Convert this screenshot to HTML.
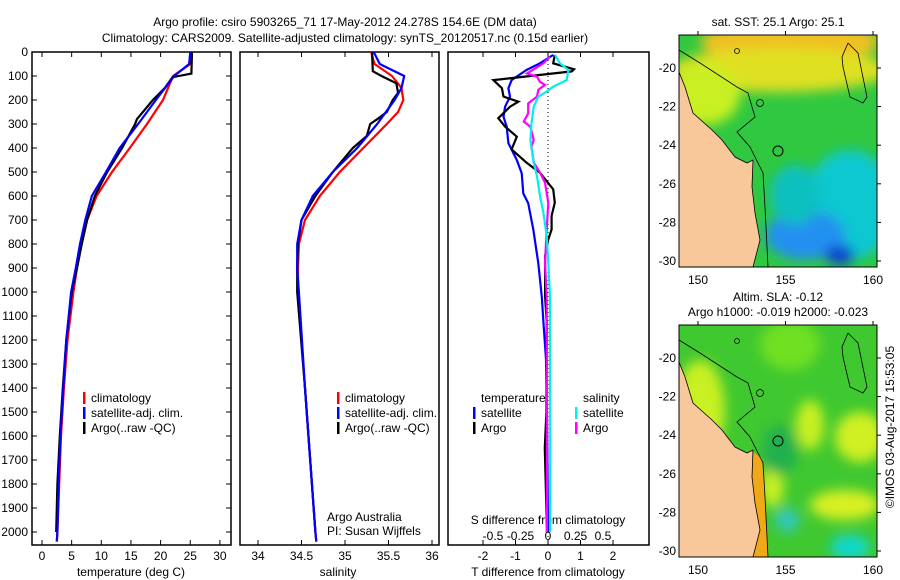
<!DOCTYPE html>
<html><head><meta charset="utf-8"><style>
body{margin:0;background:#fff;}
svg{display:block;font-family:"Liberation Sans",sans-serif;}
text{font-size:12px;fill:#000;}
</style></head><body>
<svg id="fig" width="900" height="580" viewBox="0 0 900 580">
<defs>
<filter id="blur" x="-20%" y="-20%" width="140%" height="140%"><feGaussianBlur stdDeviation="6"/></filter>
<clipPath id="m1"><rect x="679" y="35" width="198" height="232"/></clipPath>
<clipPath id="m2"><rect x="679" y="325" width="198" height="232"/></clipPath>
</defs>
<text x="345" y="26" text-anchor="middle">Argo profile: csiro 5903265_71 17-May-2012 24.278S 154.6E (DM data)</text>
<text x="345" y="42" text-anchor="middle">Climatology: CARS2009. Satellite-adjusted climatology: synTS_20120517.nc (0.15d earlier)</text>
<g id="charts"></g>
<g id="maps"></g>
<text transform="translate(894,427) rotate(-90)" text-anchor="middle">©IMOS 03-Aug-2017 15:53:05</text>
</svg>
<script>
// ---- data ----
const tempDepths=[0,50,100,200,300,400,500,600,700,800,900,1000,1200,1400,1600,1800,2000,2040];
const tempClim=[25.0,25.0,22.1,20.4,17.7,14.8,11.8,9.2,7.6,6.7,5.9,5.3,4.3,3.7,3.2,2.9,2.6,2.5];
const tempSat=[25.0,24.8,22.3,19.2,16.2,13.1,10.8,8.4,7.3,6.4,5.7,4.9,4.1,3.6,3.1,2.8,2.6,2.5];
const argoTempDepths=[0,90,105,150,200,280,300,400,500,600,700,800,900,1000,1200,1400,1600,1800,2000];
const argoTemp=[25.3,25.2,22.0,20.7,18.7,16.0,15.7,13.5,11.0,8.9,7.6,6.7,5.9,5.0,4.1,3.5,3.0,2.6,2.4];
const salDepths=[0,50,100,150,200,250,300,400,500,600,700,800,900,1000,1400,2000,2040];
const salClim=[35.30,35.34,35.54,35.65,35.67,35.61,35.48,35.21,34.94,34.71,34.54,34.47,34.46,34.46,34.54,34.66,34.67];
const salSat=[35.33,35.40,35.68,35.65,35.57,35.47,35.37,35.14,34.86,34.63,34.50,34.45,34.45,34.47,34.54,34.66,34.67];
const argoSalDepths=[0,80,100,130,170,200,250,280,300,350,400,500,600,700,800,900,1000,1400,2000];
const argoSal=[35.31,35.32,35.42,35.59,35.61,35.55,35.48,35.37,35.29,35.25,35.09,34.86,34.66,34.50,34.46,34.45,34.45,34.54,34.66];
const dTSatDepths=[12,47,75,117,151,186,228,270,311,380,450,505,589,630,742,880,1020,1130,1280,1500,2000];
const dTSat=[0.16,-0.25,-0.66,-1.12,-1.22,-1.17,-1.32,-1.37,-1.27,-1.22,-0.96,-0.81,-0.76,-0.61,-0.45,-0.30,-0.19,-0.14,-0.06,-0.03,0.0];
const dTArgoDepths=[12,47,72,81,117,151,186,207,228,276,311,353,406,461,503,572,628,683,739,781,850,1017,1128,1500,1650,2000];
const dTArgo=[0.21,0.16,0.80,0.73,-1.68,-1.42,-1.37,-0.91,-1.17,-1.53,-1.32,-0.96,-1.12,-0.66,-0.25,0.16,0.21,0.11,0.11,0.01,-0.09,-0.09,-0.04,-0.05,-0.10,-0.03];
const dSArgoDepths=[19,47,89,103,124,137,158,186,214,256,290,311,367,394,461,503,544,628,739,878,1017,1128,1600,2000];
const dSArgo=[0.018,-0.042,-0.19,-0.10,-0.073,-0.027,-0.088,-0.10,-0.18,-0.18,-0.22,-0.16,-0.13,-0.15,-0.13,-0.073,-0.027,0.003,-0.012,-0.027,-0.012,-0.012,-0.01,-0.01];
const dSSatDepths=[12,47,75,117,144,165,186,228,297,367,461,517,600,669,767,878,1017,1128,1600,2000];
const dSSat=[0.064,0.109,0.185,0.17,0.048,-0.012,-0.088,-0.13,-0.15,-0.16,-0.13,-0.10,-0.073,-0.042,-0.012,0.003,0.018,0.018,0.02,0.02];
const depthTicks=[0,100,200,300,400,500,600,700,800,900,1000,1100,1200,1300,1400,1500,1600,1700,1800,1900,2000];
const tempTicks=[0,5,10,15,20,25,30];
const salTicks=[34,34.5,35,35.5,36];
const dTTicks=[-2,-1,0,1,2];
const dSTicks=[-0.5,-0.25,0,0.25,0.5];
const dSTickLabels=["-0.5","-0.25","0","0.25","0.5"];

const NS="http://www.w3.org/2000/svg";
const g=document.getElementById('charts');
function mk(tag,attrs,parent){const e=document.createElementNS(NS,tag);for(const k in attrs)e.setAttribute(k,attrs[k]);(parent||g).appendChild(e);return e;}
const yD=d=>52+d*0.24;
const xT=t=>42+t*5.93;
const xS=s=>258+(s-34)*87;
const xDT=t=>548+t*32.5;
const xDS=s=>548+s*110;
const TOP=52,BOT=545;
const panels=[[32,231],[240,439],[448,649]];
panels.forEach((p,i)=>{
  const r=mk('rect',{x:p[0],y:TOP,width:p[1]-p[0],height:BOT-TOP,fill:'none',stroke:'#000','stroke-width':1.5});
  
  
});
depthTicks.forEach(d=>{
  const t=mk('text',{x:28,y:yD(d)+4,'text-anchor':'end'});t.textContent=d;
  
  
  mk('line',{x1:32,x2:37,y1:yD(d),y2:yD(d),stroke:'#000'});
  mk('line',{x1:226,x2:231,y1:yD(d),y2:yD(d),stroke:'#000'});
});
function xTicks(ticks,fx,labels,ly,top){
  ticks.forEach((v,i)=>{
    const x=fx(v);
    mk('line',{x1:x,x2:x,y1:BOT,y2:BOT-5,stroke:'#000'});
    if(top)mk('line',{x1:x,x2:x,y1:TOP,y2:TOP+5,stroke:'#000'});
    const t=mk('text',{x:x,y:ly,'text-anchor':'middle'});t.textContent=labels?labels[i]:v;
    
    
  });
}
xTicks(tempTicks,xT,null,560,true);
xTicks(salTicks,xS,null,560,true);
xTicks(dTTicks,xDT,null,560,true);
dSTicks.forEach((v,i)=>{const t=mk('text',{x:xDS(v),y:540,'text-anchor':'middle'});t.textContent=dSTickLabels[i];
  
  });
function label(txt,x,y,name,anchor){const t=mk('text',{x:x,y:y,'text-anchor':anchor||'middle'});t.textContent=txt;
  
  return t;}
label('temperature (deg C)',131,576,'x-axis-title-temperature');
label('salinity',338,576,'x-axis-title-salinity');
label('T difference from climatology',548,576,'x-axis-title-t-diff');
label('S difference from climatology',548,524,'x-axis-title-s-diff');
label('Argo Australia',327,521,'credit-argo-australia','start');
label('PI: Susan Wijffels',327,535,'credit-pi','start');
const z=mk('line',{x1:548,x2:548,y1:TOP,y2:BOT,stroke:'#000','stroke-dasharray':'1,3'});


function series(depths,vals,fx,color,name){
  const pts=depths.map((d,i)=>fx(vals[i]).toFixed(1)+','+yD(d).toFixed(1)).join(' ');
  const pl=mk('polyline',{points:pts,fill:'none',stroke:color,'stroke-width':2.2});
  
  
}
series(tempDepths,tempClim,xT,'#f00','temp-climatology-line');
series(argoTempDepths,argoTemp,xT,'#000','temp-argo-line');
series(tempDepths,tempSat,xT,'#00f','temp-satellite-line');
series(salDepths,salClim,xS,'#f00','sal-climatology-line');
series(argoSalDepths,argoSal,xS,'#000','sal-argo-line');
series(salDepths,salSat,xS,'#00f','sal-satellite-line');
series(dTSatDepths,dTSat,xDT,'#00f','tdiff-satellite-line');
series(dTArgoDepths,dTArgo,xDT,'#000','tdiff-argo-line');
series(dSArgoDepths,dSArgo,xDS,'#f0f','sdiff-argo-line');
series(dSSatDepths,dSSat,xDS,'#0ee','sdiff-satellite-line');
function leg(x,y,color,txt,name){
  mk('rect',{x:x,y:y-10,width:2.5,height:12,fill:color});
  const t=mk('text',{x:x+8,y:y});t.textContent=txt;
  
  
}
[83,337].forEach((lx,i)=>{
  leg(lx,402,'#f00','climatology','legend-climatology-'+(i+1));
  leg(lx,417,'#00f','satellite-adj. clim.','legend-satellite-'+(i+1));
  leg(lx,432,'#000','Argo(..raw -QC)','legend-argo-'+(i+1));
});
label('temperature',481,402,'legend-heading-temperature','start');
label('salinity',583,402,'legend-heading-salinity','start');
leg(473,417,'#00f','satellite','legend-t-satellite');
leg(473,432,'#000','Argo','legend-t-argo');
leg(575,417,'#0ee','satellite','legend-s-satellite');
leg(575,432,'#f0f','Argo','legend-s-argo');

// ---- maps ----
const mg=document.getElementById('maps');
const lonTicks=[150,155,160];
const latTicks=[-20,-22,-24,-26,-28,-30];
const xLon=l=>698+(l-150)*17.5;
function drawMap(y0,clip,blobs,base,name,strip){
  const off=y0-35;
  const grp=mk('g',{'clip-path':'url(#'+clip+')'},mg);
  
  
  mk('rect',{x:679,y:y0,width:198,height:232,fill:base},grp);
  const bg=mk('g',{filter:'url(#blur)'},grp);
  blobs.forEach(b=>mk('ellipse',{cx:b[0],cy:off+b[1],rx:b[2],ry:b[3],fill:b[4]},bg));
  if(strip)mk('polygon',{points:[[750,160],[762,168],[768,267],[752,267]].map(p=>p[0]+','+(p[1]+off)).join(' '),fill:strip},grp);
  const land=[[679,72],[685,87],[693,113],[712,130],[722,140],[735,157],[747,163],[753,160],[752,187],[755,213],[760,240],[753,267],[679,267]].map(p=>p[0]+','+(p[1]+off)).join(' ');
  mk('polygon',{points:land,fill:'#f9c89a',stroke:'#000','stroke-width':0.8},grp);
  const c1=[[679,50],[700,63],[737,87],[748,93],[755,117],[737,132],[750,147],[763,173],[765,207],[768,267]].map(p=>p[0]+','+(p[1]+off)).join(' ');
  mk('polyline',{points:c1,fill:'none',stroke:'#000','stroke-width':0.8},grp);
  const c2=[[848,43],[858,53],[867,97],[863,103],[850,97],[843,67],[842,57],[848,43]].map(p=>p[0]+','+(p[1]+off)).join(' ');
  mk('polyline',{points:c2,fill:'none',stroke:'#000','stroke-width':0.8},grp);
  mk('circle',{cx:778,cy:off+151,r:5,fill:'none',stroke:'#000','stroke-width':1},grp);
  mk('circle',{cx:737,cy:off+51,r:2.5,fill:'none',stroke:'#000','stroke-width':0.8},grp);
  mk('circle',{cx:760,cy:off+103,r:3.5,fill:'none',stroke:'#000','stroke-width':0.8},grp);
  const fr=mk('rect',{x:679,y:y0,width:198,height:232,fill:'none',stroke:'#000','stroke-width':1},mg);
  
  
  lonTicks.forEach(l=>{const t=mk('text',{x:xLon(l),y:y0+249,'text-anchor':'middle'},mg);t.textContent=l;
    
    
    mk('line',{x1:xLon(l),x2:xLon(l),y1:y0,y2:y0-4,stroke:'#000'},mg);});
  latTicks.forEach(l=>{const y=y0+33+(-20-l)*19.3;const t=mk('text',{x:676,y:y+4,'text-anchor':'end'},mg);t.textContent=l;
    
    
    mk('line',{x1:877,x2:881,y1:y,y2:y,stroke:'#000'},mg);});
}
drawMap(35,'m1',[[790,42,90,22,'#f0c020'],[780,70,110,22,'#e0e020'],[705,95,35,30,'#c8f020'],[850,205,45,55,'#10c8d0'],[805,235,40,25,'#2090f0'],[840,255,15,10,'#1040d0'],[795,195,25,30,'#10c0c0']],'#30c840','map-sst',null);
drawMap(325,'m2',[[700,120,25,50,'#c8f020'],[810,135,14,25,'#c8f020'],[860,147,25,25,'#d0f020'],[845,215,35,15,'#d8f020'],[772,197,12,20,'#c8f020'],[790,55,30,25,'#70e020'],[787,230,12,12,'#30c8c0'],[850,257,20,12,'#10d8d0'],[780,160,18,25,'#20b050']],'#40c830','map-sla','#f0a818');
function mt(txt,y,name){const t=mk('text',{x:778,y:y,'text-anchor':'middle'},mg);t.textContent=txt;
  
  }
mt('sat. SST: 25.1 Argo: 25.1',26,'map-sst-title');
mt('Altim. SLA: -0.12',301,'map-sla-title-1');
mt('Argo h1000: -0.019 h2000: -0.023',316,'map-sla-title-2');
</script>
</body></html>
